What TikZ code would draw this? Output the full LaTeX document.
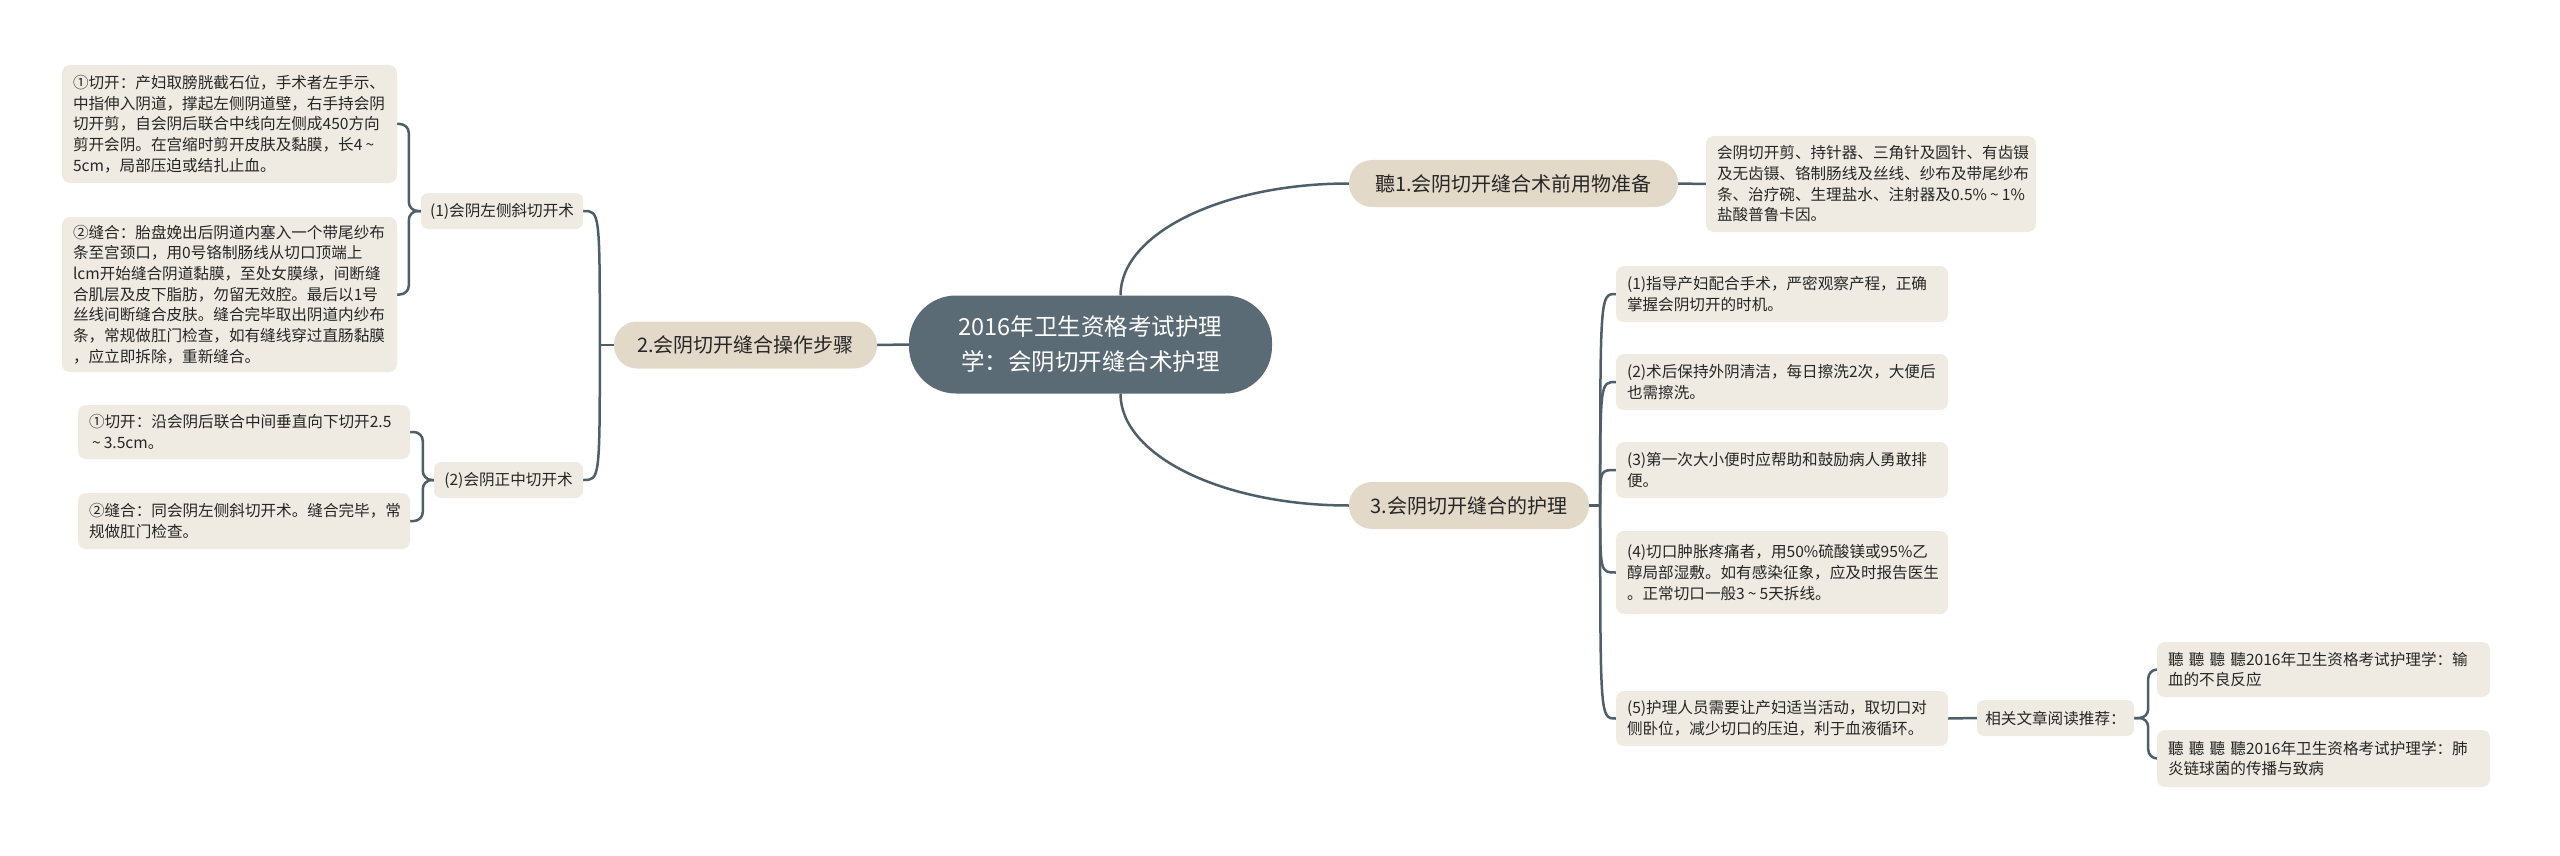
\documentclass[tikz,border=0pt]{standalone}
\usepackage{fontspec}
\setmainfont{Noto Sans CJK SC}
\usetikzlibrary{calc,backgrounds}
\definecolor{rootfill}{HTML}{5B6B76}
\definecolor{mainfill}{HTML}{E3D9C9}
\definecolor{leaffill}{HTML}{EFEBE3}
\definecolor{linec}{HTML}{4F5F6A}
\definecolor{txt}{HTML}{262626}
\newcommand{\tld}{\leavevmode\hbox to 0.95em{\hss\char"7E\hss}}
\begin{document}
\begin{tikzpicture}[x=1pt,y=-1pt,
 rootbox/.style={fill=rootfill, text=white, rounded corners=47pt, minimum width=363pt, minimum height=98pt, align=center, inner sep=0pt, font=\fontsize{23.5}{35}\selectfont},
 mainbox/.style={fill=mainfill, text=txt, rounded corners=23pt, minimum height=47pt, inner sep=0pt, font=\fontsize{20}{24}\selectfont},
 subbox/.style={fill=leaffill, text=txt, rounded corners=7pt, minimum height=36pt, inner sep=0pt, font=\fontsize{15.6}{20.7}\selectfont},
 leafbox/.style={fill=leaffill, text=txt, rounded corners=8pt, inner xsep=11pt, inner ysep=0pt, align=left, font=\fontsize{15.6}{20.7}\selectfont},
 conn/.style={draw=linec, line width=2.5pt},
]
\useasboundingbox (0,0) rectangle (2560,856);

% root and main branches
\node[rootbox] (root) at (1090.5,344.5) {2016年卫生资格考试护理\\学：会阴切开缝合术护理};
\node[mainbox, minimum width=329pt] (n1) at (1513.5,183.5) {聽1.会阴切开缝合术前用物准备};
\node[mainbox, minimum width=263pt] (n2) at (745.5,345) {2.会阴切开缝合操作步骤};
\node[mainbox, minimum width=240pt] (n3) at (1469,505.5) {3.会阴切开缝合的护理};

% branch 1
\node[leafbox, text width=308pt, minimum height=96pt] (prep) at (1871,184) {会阴切开剪、持针器、三角针及圆针、有齿镊\\及无齿镊、铬制肠线及丝线、纱布及带尾纱布\\条、治疗碗、生理盐水、注射器及0.5\%\tld1\%\\盐酸普鲁卡因。};

% branch 2
\node[subbox, minimum width=162pt] (c1) at (502,211) {(1)会阴左侧斜切开术};
\node[subbox, minimum width=149pt] (c2) at (508.5,480) {(2)会阴正中切开术};
\node[leafbox, text width=313pt, minimum height=118pt] (b1) at (229.5,124) {①切开：产妇取膀胱截石位，手术者左手示、\\中指伸入阴道，撑起左侧阴道壁，右手持会阴\\切开剪，自会阴后联合中线向左侧成450方向\\剪开会阴。在宫缩时剪开皮肤及黏膜，长4\tld\\5cm，局部压迫或结扎止血。};
\node[leafbox, text width=313pt, minimum height=155pt] (b2) at (229.5,294.5) {②缝合：胎盘娩出后阴道内塞入一个带尾纱布\\条至宫颈口，用0号铬制肠线从切口顶端上\\lcm开始缝合阴道黏膜，至处女膜缘，间断缝\\合肌层及皮下脂肪，勿留无效腔。最后以1号\\丝线间断缝合皮肤。缝合完毕取出阴道内纱布\\条，常规做肛门检查，如有缝线穿过直肠黏膜\\，应立即拆除，重新缝合。};
\node[leafbox, text width=310pt, minimum height=54pt] (b3) at (244,432) {①切开：沿会阴后联合中间垂直向下切开2.5\\\tld3.5cm。};
\node[leafbox, text width=310pt, minimum height=56pt] (b4) at (244,521) {②缝合：同会阴左侧斜切开术。缝合完毕，常\\规做肛门检查。};

% branch 3
\node[leafbox, text width=310pt, minimum height=56pt] (k1) at (1782,294) {(1)指导产妇配合手术，严密观察产程，正确\\掌握会阴切开的时机。};
\node[leafbox, text width=310pt, minimum height=56pt] (k2) at (1782,382) {(2)术后保持外阴清洁，每日擦洗2次，大便后\\也需擦洗。};
\node[leafbox, text width=310pt, minimum height=56pt] (k3) at (1782,470) {(3)第一次大小便时应帮助和鼓励病人勇敢排\\便。};
\node[leafbox, text width=310pt, minimum height=83pt] (k4) at (1782,572.5) {(4)切口肿胀疼痛者，用50\%硫酸镁或95\%乙\\醇局部湿敷。如有感染征象，应及时报告医生\\。正常切口一般3\tld5天拆线。};
\node[leafbox, text width=310pt, minimum height=55pt] (k5) at (1782,718.5) {(5)护理人员需要让产妇适当活动，取切口对\\侧卧位，减少切口的压迫，利于血液循环。};
\node[subbox, minimum width=157pt] (rel) at (2055.5,718) {相关文章阅读推荐：};
\node[leafbox, text width=311pt, minimum height=55pt] (a1) at (2323.5,669.5) {聽 聽 聽 聽2016年卫生资格考试护理学：输\\血的不良反应};
\node[leafbox, text width=311pt, minimum height=57pt] (a2) at (2323.5,758.5) {聽 聽 聽 聽2016年卫生资格考试护理学：肺\\炎链球菌的传播与致病};

\begin{pgfonlayer}{background}
 \fill[white] (0,0) rectangle (2560,856);
 % root connections
 \coordinate (rt) at ($(root.north)+(30,0)$);
 \coordinate (rb) at ($(root.south)+(30,0)$);
 \draw[conn] (rt) .. controls ($(rt)+(0,-62)$) and ($(n1.west)+(-126,0)$) .. (n1.west);
 \draw[conn] (rb) .. controls ($(rb)+(0,62)$) and ($(n3.west)+(-126,0)$) .. (n3.west);
 \draw[conn] (root.west) -- (n2.east);
 \draw[conn] (n1.east) -- (prep.west);
 % branch 2 fan
 \draw[conn] (n2.west) -- ++(-14,0) coordinate (j2);
 \draw[conn] (j2) .. controls (j2 |- c1.east) .. (c1.east);
 \draw[conn] (j2) .. controls (j2 |- c2.east) .. (c2.east);
 % brackets
 \draw[conn, rounded corners=9pt] (c1.west) -- ++(-12,0) |- (b1.east);
 \draw[conn, rounded corners=9pt] (c1.west) -- ++(-12,0) |- (b2.east);
 \draw[conn, rounded corners=9pt] (c2.west) -- ++(-11,0) |- (b3.east);
 \draw[conn, rounded corners=9pt] (c2.west) -- ++(-11,0) |- (b4.east);
 % branch 3 fan
 \draw[conn] (n3.east) -- ++(11,0) coordinate (j3);
 \foreach \k in {k1,k2,k3,k4,k5} {
   \draw[conn] (j3) .. controls (j3 |- \k.west) .. (\k.west);
 }
 \draw[conn] (k5.east) -- (rel.west);
 \draw[conn, rounded corners=9pt] (rel.east) -- ++(14,0) |- (a1.west);
 \draw[conn, rounded corners=9pt] (rel.east) -- ++(14,0) |- (a2.west);
\end{pgfonlayer}
\end{tikzpicture}
\end{document}
